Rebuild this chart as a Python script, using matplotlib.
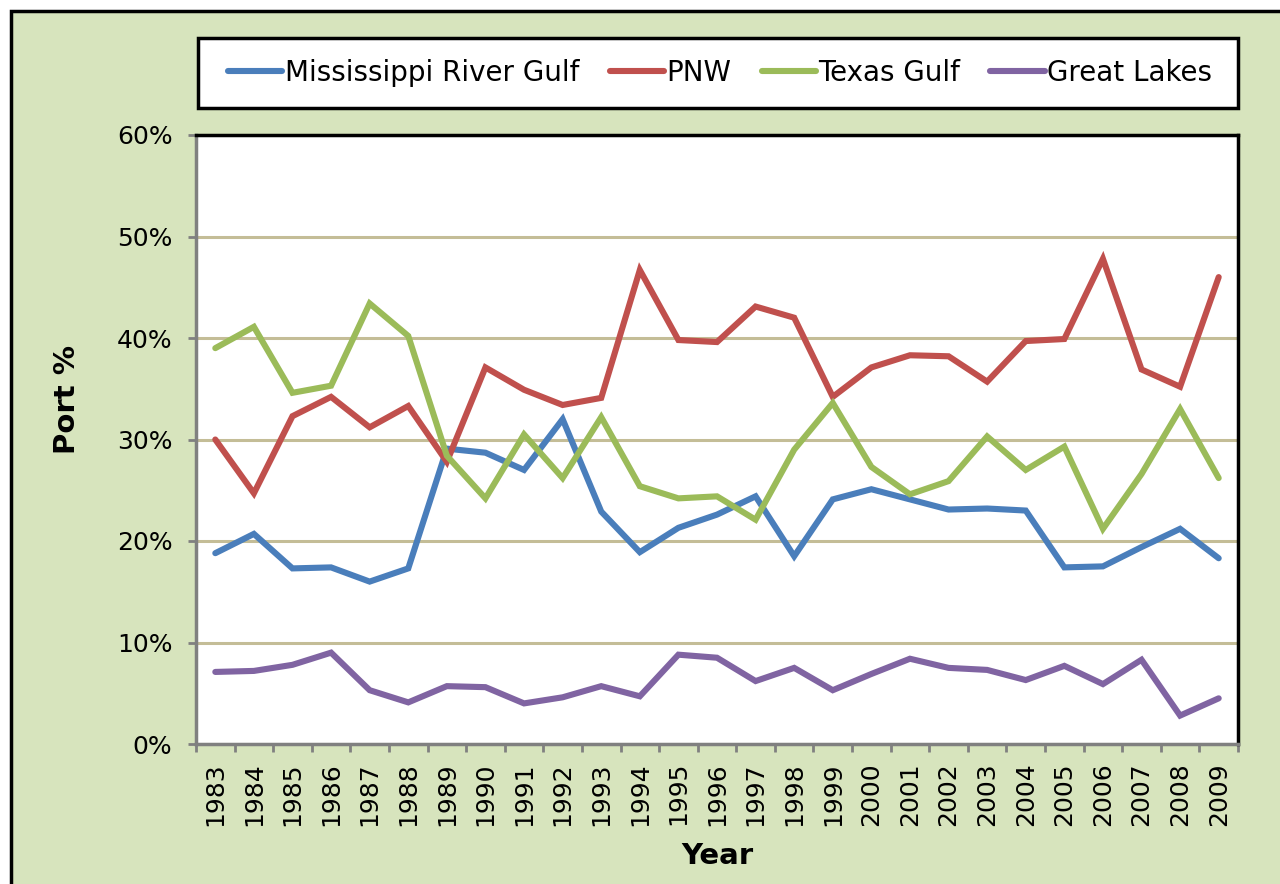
import numpy as np
import matplotlib
matplotlib.use("Agg")
import matplotlib.pyplot as plt
from matplotlib.patches import Rectangle
from matplotlib.ticker import FixedLocator, FuncFormatter

years = list(range(1983, 2010))

mississippi = [18.8, 20.7, 17.3, 17.4, 16.0, 17.3, 29.1, 28.7, 27.0, 32.0,
               22.9, 18.9, 21.3, 22.6, 24.4, 18.5, 24.1, 25.1, 24.1, 23.1,
               23.2, 23.0, 17.4, 17.5, 19.4, 21.2, 18.3]
pnw = [30.0, 24.7, 32.3, 34.2, 31.2, 33.3, 27.8, 37.1, 34.9, 33.4,
       34.1, 46.7, 39.8, 39.6, 43.1, 42.0, 34.2, 37.1, 38.3, 38.2,
       35.7, 39.7, 39.9, 47.8, 36.9, 35.2, 46.0]
texas = [39.0, 41.1, 34.6, 35.3, 43.4, 40.2, 28.4, 24.2, 30.5, 26.2,
         32.2, 25.4, 24.2, 24.4, 22.1, 29.0, 33.6, 27.3, 24.6, 25.9,
         30.3, 27.0, 29.3, 21.2, 26.6, 33.0, 26.2]
great_lakes = [7.1, 7.2, 7.8, 9.0, 5.3, 4.1, 5.7, 5.6, 4.0, 4.6,
               5.7, 4.7, 8.8, 8.5, 6.2, 7.5, 5.3, 6.9, 8.4, 7.5,
               7.3, 6.3, 7.7, 5.9, 8.3, 2.8, 4.5]

series = [("Mississippi River Gulf", mississippi, "#4A7EBB"),
          ("PNW", pnw, "#C0504D"),
          ("Texas Gulf", texas, "#9BBB59"),
          ("Great Lakes", great_lakes, "#8064A2")]

W, H = 1280, 884
fig = plt.figure(figsize=(W / 100, H / 100), dpi=100, facecolor="white")

# green chart area with black frame, running off the right/bottom edge
fig.patches.append(Rectangle((11 / W, -0.05), 1.1, 1 - 11 / H + 0.05,
                             transform=fig.transFigure, facecolor="#D7E4BD",
                             edgecolor="black", linewidth=2.5, zorder=-2))
# legend box
fig.patches.append(Rectangle((198 / W, 1 - 108 / H), (1238 - 198) / W, 70 / H,
                             transform=fig.transFigure, facecolor="white",
                             edgecolor="black", linewidth=2.5, zorder=-1))

ax = fig.add_axes([196 / W, 1 - 744 / H, (1238 - 196) / W, (744 - 135) / H])
ax.set_facecolor("white")

x = np.arange(len(years))
for name, vals, col in series:
    ax.plot(x, vals, color=col, lw=4.4, label=name, solid_joinstyle="miter",
            solid_capstyle="round", zorder=3)

ax.set_xlim(-0.5, len(years) - 0.5)
ax.set_ylim(0, 60)
ax.set_yticks(range(0, 61, 10))
ax.yaxis.set_major_formatter(FuncFormatter(lambda v, p: f"{int(v)}%"))
ax.yaxis.grid(True, color="#C4BD97", lw=2.2, zorder=1)
ax.set_axisbelow(True)

ax.set_xticks(x)
ax.set_xticklabels([str(y) for y in years], rotation=90)
ax.xaxis.set_minor_locator(FixedLocator(np.arange(-0.5, len(years), 1.0)))

ax.tick_params(axis="x", which="major", length=0, pad=13, labelsize=18)
ax.tick_params(axis="x", which="minor", length=6, width=2, color="#808080")
ax.tick_params(axis="y", length=6, width=2, color="#808080", pad=11,
               labelsize=18)

for side in ("left", "bottom"):
    ax.spines[side].set_color("#808080")
    ax.spines[side].set_linewidth(2.5)
for side in ("top", "right"):
    ax.spines[side].set_color("black")
    ax.spines[side].set_linewidth(2.5)

ax.set_ylabel("Port %", fontsize=21, fontweight="bold", labelpad=26)
ax.yaxis.label.set_y(0.565)
ax.set_xlabel("Year", fontsize=21, fontweight="bold", labelpad=12)

fig.legend(loc="center", ncol=4, bbox_to_anchor=(720 / W, 1 - 73 / H),
           fontsize=20, frameon=False, borderaxespad=0,
           handlelength=1.95, handletextpad=0.08, columnspacing=1.1)

fig.savefig("out.png", dpi=100, facecolor="white")
